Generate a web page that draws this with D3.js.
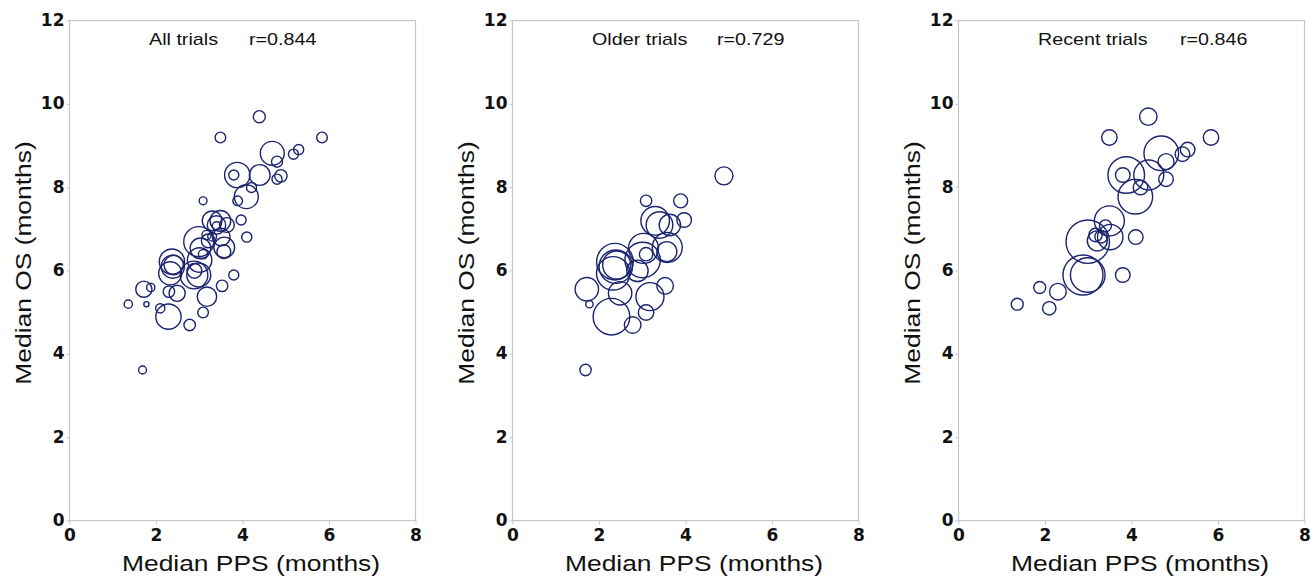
<!DOCTYPE html>
<html>
<head>
<meta charset="utf-8">
<script src="https://cdn.jsdelivr.net/npm/d3@7"></script>
<style>
  body { margin: 0; background: #fff; }
  .axis-title { font-family: "Liberation Sans", Arial, sans-serif; font-size: 22px; fill: #111; }
  .panel-title { font-family: "Liberation Sans", Arial, sans-serif; font-size: 17px; fill: #111; }
</style>
</head>
<body>
<div id="chart"></div>
<script>
// older trials: median PPS, median OS (months), trial size
var olderPPS = [4.90, 3.10, 3.90, 3.31, 3.41, 3.65, 3.98, 3.04, 3.10, 3.59, 3.58, 3.02, 2.90, 2.38, 2.40, 2.34, 2.42, 2.50, 1.73, 1.79, 2.30, 2.79, 3.19, 3.54, 3.10, 1.70];
var olderOS  = [8.26, 7.66, 7.66, 7.18, 7.08, 7.08, 7.20, 6.52, 6.38, 6.54, 6.44, 6.24, 5.98, 6.20, 6.08, 5.92, 6.12, 5.44, 5.54, 5.18, 4.88, 4.68, 5.36, 5.62, 4.98, 3.60];
var olderN   = [228, 91, 138, 576, 498, 322, 150, 633, 126, 633, 281, 880, 322, 943, 785, 785, 552, 385, 385, 39, 943, 194, 552, 194, 167, 91];

// recent trials
var recentPPS = [4.40, 3.50, 5.85, 4.70, 5.31, 5.19, 4.81, 3.89, 3.81, 4.41, 4.81, 4.22, 4.10, 3.50, 3.41, 3.00, 3.52, 3.18, 3.22, 3.31, 4.11, 2.89, 3.00, 3.81, 1.89, 2.31, 1.37, 2.11];
var recentOS  = [9.68, 9.18, 9.18, 8.80, 8.89, 8.78, 8.60, 8.28, 8.28, 8.28, 8.18, 7.98, 7.76, 7.18, 7.06, 6.68, 6.79, 6.84, 6.70, 6.80, 6.79, 5.88, 5.88, 5.88, 5.58, 5.48, 5.18, 5.08];
var recentN   = [213, 167, 167, 843, 150, 150, 180, 943, 150, 633, 150, 150, 843, 633, 101, 1325, 454, 126, 281, 113, 150, 1126, 843, 150, 101, 194, 101, 126];

var xTicks = [0, 2, 4, 6, 8];
var yTicks = [0, 2, 4, 6, 8, 10, 12];

function toPoints(pps, os, n) {
  return pps.map(function(d, i) { return {x: d, y: os[i], n: n[i]}; });
}
var older = toPoints(olderPPS, olderOS, olderN);
var recent = toPoints(recentPPS, recentOS, recentN);

var panels = [
  {title: "All trials",    r: "r=0.844", left: 69,  rOffset: 180, rMax: 15,   data: older.concat(recent)},
  {title: "Older trials",  r: "r=0.729", left: 512, rOffset: 205, rMax: 21.7, data: older},
  {title: "Recent trials", r: "r=0.846", left: 958, rOffset: 222, rMax: 21.7, data: recent}
];

var W = 1316, H = 580;
var plotTop = 20, plotBottom = 520, pw = 346;
var maxN = d3.max(olderN.concat(recentN));

var svg = d3.select("#chart").append("svg")
  .attr("width", W)
  .attr("height", H);

panels.forEach(function(p) {
  var x = d3.scaleLinear().domain([0, 8]).range([p.left, p.left + pw]);
  var y = d3.scaleLinear().domain([0, 12]).range([plotBottom, plotTop]);
  var rad = d3.scaleSqrt().domain([0, maxN]).range([0, p.rMax]);

  var g = svg.append("g");

  // frame
  g.append("rect")
    .attr("x", p.left + 0.5)
    .attr("y", plotTop + 0.5)
    .attr("width", pw)
    .attr("height", plotBottom - plotTop)
    .attr("fill", "none")
    .attr("stroke", "#c6c6c6")
    .attr("stroke-width", 1.2);

  var xAxis = g.append("g")
    .attr("transform", "translate(0.5," + (plotBottom + 0.5) + ")")
    .call(d3.axisBottom(x).tickValues(xTicks).tickSize(4).tickPadding(4).tickFormat(d3.format("d")));
  var yAxis = g.append("g")
    .attr("transform", "translate(" + (p.left + 0.5) + ",0.5)")
    .call(d3.axisLeft(y).tickValues(yTicks).tickSize(3).tickPadding(2).tickFormat(d3.format("d")));
  [xAxis, yAxis].forEach(function(a) {
    a.select(".domain").remove();
    a.selectAll(".tick line").attr("stroke", "#c6c6c6");
    a.selectAll(".tick text")
      .attr("font-family", "'DejaVu Sans', Verdana, sans-serif")
      .attr("font-weight", "bold")
      .attr("font-size", 17)
      .attr("fill", "#111");
  });
  yAxis.selectAll(".tick text").attr("dy", "0.3em");

  // bubbles
  g.selectAll("circle")
    .data(p.data.slice().sort(function(a, b) { return b.n - a.n; }))
    .enter()
    .append("circle")
      .attr("cx", function(d) { return x(d.x); })
      .attr("cy", function(d) { return y(d.y); })
      .attr("r", function(d) { return rad(d.n); })
      .attr("fill", "none")
      .attr("stroke", "#1b2470")
      .attr("stroke-width", 1.4);

  // panel title and correlation
  g.append("text")
    .attr("class", "panel-title")
    .attr("transform", "translate(" + (p.left + 80) + ",45) scale(1.16,1)")
    .text(p.title);
  g.append("text")
    .attr("class", "panel-title")
    .attr("transform", "translate(" + (p.left + p.rOffset) + ",45) scale(1.16,1)")
    .text(p.r);

  // axis titles
  g.append("text")
    .attr("class", "axis-title")
    .attr("text-anchor", "middle")
    .attr("transform", "translate(" + (p.left + pw / 2 + 9) + ",571) scale(1.2,1)")
    .text("Median PPS (months)");
  g.append("text")
    .attr("class", "axis-title")
    .attr("text-anchor", "middle")
    .attr("transform", "translate(" + (p.left - 38) + ",263) rotate(-90) scale(1.2,1)")
    .text("Median OS (months)");
});
</script>
</body>
</html>
